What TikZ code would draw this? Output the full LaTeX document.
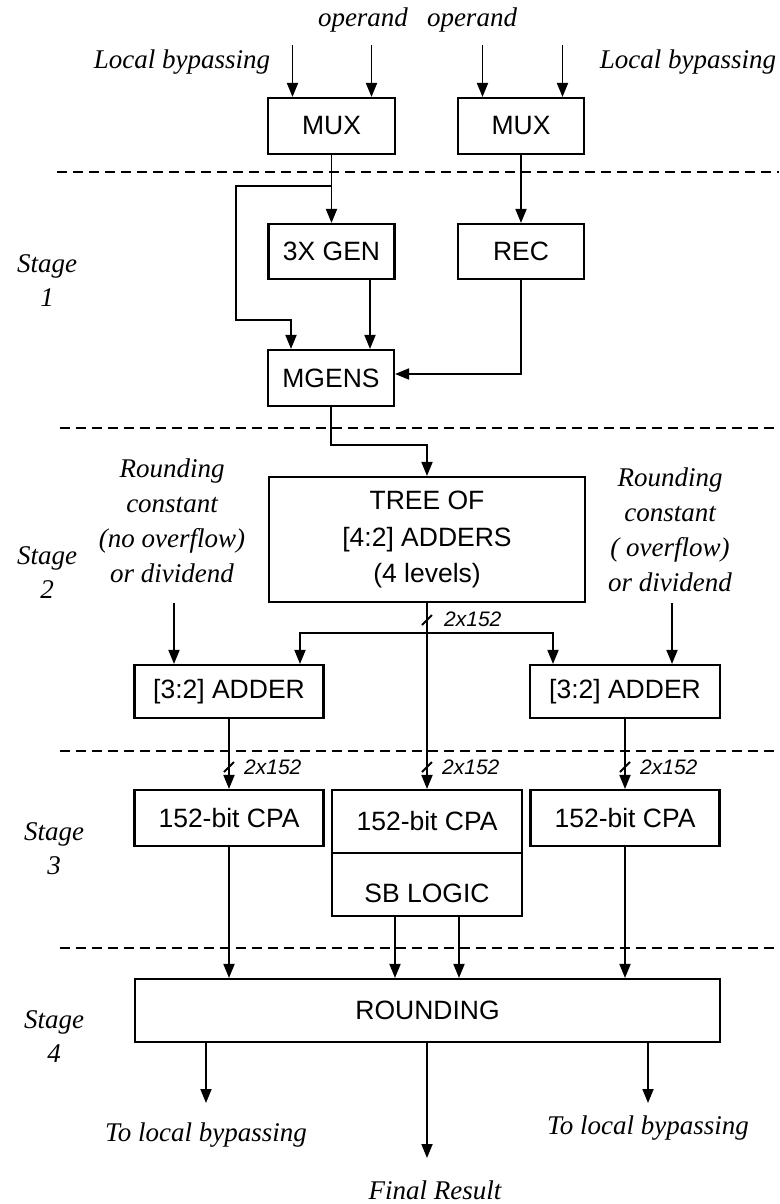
\documentclass[tikz,border=0pt]{standalone}
\usepackage{fontspec}
\setmainfont{Liberation Serif}
\setsansfont{Liberation Sans}
\usetikzlibrary{arrows.meta}
\tikzset{
  blk/.style={draw, line width=2.1pt, inner sep=0pt, font=\sffamily\fontsize{26.5}{36.5}\selectfont, align=center},
  ital/.style={inner sep=0pt, font=\itshape\fontsize{27}{35}\selectfont, align=center},
  stg/.style={inner sep=0pt, font=\itshape\fontsize{27}{34}\selectfont, align=center},
  bus/.style={inner sep=0pt, anchor=west, font=\sffamily\itshape\fontsize{21}{24}\selectfont},
  wire/.style={line width=1.8pt},
  arr/.style={line width=1.8pt, -{Triangle[length=14pt,width=11pt]}},
  sep/.style={line width=1.6pt, dash pattern=on 10pt off 6pt},
}
\begin{document}
\begin{tikzpicture}[x=1pt,y=-1pt]
\useasboundingbox[fill=white] (0,0) rectangle (779,1204);

% stage separators
\draw[sep] (57,172) -- (779,172);
\draw[sep] (60,428) -- (779,428);
\draw[sep] (60,751) -- (779,751);
\draw[sep] (60,948) -- (779,948);

% boxes
\node[blk, minimum width=127pt, minimum height=56pt] (mux1) at (331.5,126) {MUX};
\node[blk, minimum width=126pt, minimum height=56pt] (mux2) at (521,126) {MUX};
\node[blk, minimum width=126pt, minimum height=55pt] (gen) at (331.5,251.5) {3X GEN};
\node[blk, minimum width=126pt, minimum height=55pt] (rec) at (521,251.5) {REC};
\node[blk, minimum width=126pt, minimum height=56pt] (mgens) at (331,378) {MGENS};
\node[blk, minimum width=316pt, minimum height=125pt] (tree) at (427,539.5) {TREE OF\\{}[4:2] ADDERS\\(4 levels)};
\node[blk, minimum width=189pt, minimum height=53pt] (add1) at (229,691.5) {{}[3:2] ADDER};
\node[blk, minimum width=190pt, minimum height=53pt] (add2) at (625,691.5) {{}[3:2] ADDER};
\node[blk, minimum width=189pt, minimum height=56pt] (cpa1) at (229,818) {152-bit CPA};
\node[blk, minimum width=190pt, minimum height=63pt] (cpa2) at (427,821.5) {152-bit CPA};
\node[blk, minimum width=190pt, minimum height=63pt] (sb) at (427,884.5) {};
\node[inner sep=0pt, font=\sffamily\fontsize{26.5}{30}\selectfont] (sbt) at (427,893) {SB LOGIC};
\node[blk, minimum width=189pt, minimum height=56pt] (cpa3) at (625,818) {152-bit CPA};
\node[blk, minimum width=585pt, minimum height=63pt] (rnd) at (427.5,1010.5) {ROUNDING};

% labels
\node[ital] (op1) at (363,20) {operand};
\node[ital] (op2) at (472,20) {operand};
\node[ital] (lb1) at (182,62) {Local bypassing};
\node[ital] (lb2) at (688,62) {Local bypassing};
\node[ital] (rc1t) at (172,521) {Rounding\\constant\\(no overflow)\\or dividend};
\node[ital] (rc2t) at (670,529.5) {Rounding\\constant\\( overflow)\\or dividend};
\node[stg] (s1) at (47,280.5) {Stage\\1};
\node[stg] (s2) at (47,572.5) {Stage\\2};
\node[stg] (s3) at (54,848.5) {Stage\\3};
\node[stg] (s4) at (54,1036.5) {Stage\\4};
\node[ital] (tl1) at (206,1135) {To local bypassing};
\node[ital] (tl2) at (648,1128) {To local bypassing};
\node[ital] (fr) at (435,1190) {Final Result};

% free ends
\coordinate (i1a) at (292.5,45);
\coordinate (i1b) at (371.5,45);
\coordinate (i2a) at (482.5,45);
\coordinate (i2b) at (562.5,45);
\coordinate (br) at (331.5,186);
\coordinate (sp) at (427,633);
\coordinate (rc1) at (174,603);
\coordinate (rc2) at (672,603);
\coordinate (o1) at (206,1103);
\coordinate (o2) at (427,1158);
\coordinate (o3) at (648,1103);

% stage 0 / 1
\draw[arr] (i1a) -- (i1a |- mux1.north);
\draw[arr] (i1b) -- (i1b |- mux1.north);
\draw[arr] (i2a) -- (i2a |- mux2.north);
\draw[arr] (i2b) -- (i2b |- mux2.north);
\draw[arr] (mux1.south) -- (gen.north);
\draw[arr] (br) -| (236,320) -| ([xshift=-40pt]mgens.north);
\draw[arr] ([xshift=38.5pt]gen.south) -- ([xshift=39pt]mgens.north);
\draw[arr] (mux2.south) -- (rec.north);
\draw[arr] (rec.south) |- ([yshift=4pt]mgens.east);

% stage 2
\draw[arr] (mgens.south) -- ++(0,38) -| (tree.north);
\draw[arr] (tree.south) -- (cpa2.north);
\draw[arr] (sp) -| ([xshift=71pt]add1.north);
\draw[arr] (sp) -| ([xshift=-72pt]add2.north);
\draw[arr] (rc1) -- (rc1 |- add1.north);
\draw[arr] (rc2) -- (rc2 |- add2.north);

% stage 3
\draw[arr] (add1.south) -- (cpa1.north);
\draw[arr] (add2.south) -- (cpa3.north);

% stage 4
\draw[arr] (cpa1.south) -- (cpa1.south |- rnd.north);
\draw[arr] (cpa3.south) -- (cpa3.south |- rnd.north);
\draw[arr] ([xshift=-32pt]sb.south) -- ([xshift=-32pt]sb.south |- rnd.north);
\draw[arr] ([xshift=32pt]sb.south) -- ([xshift=32pt]sb.south |- rnd.north);
\draw[arr] (rnd.south -| o1) -- (o1);
\draw[arr] (rnd.south -| o2) -- (o2);
\draw[arr] (rnd.south -| o3) -- (o3);

% bus width marks
\draw[wire] (422,625) -- ++(10,-10);
\draw[wire] (224,772) -- ++(10,-10);
\draw[wire] (422,772) -- ++(10,-10);
\draw[wire] (620,772) -- ++(10,-10);
\node[bus] (b0) at (444,619) {2x152};
\node[bus] (b1) at (244,767) {2x152};
\node[bus] (b2) at (442,767) {2x152};
\node[bus] (b3) at (640,767) {2x152};
\end{tikzpicture}
\end{document}
